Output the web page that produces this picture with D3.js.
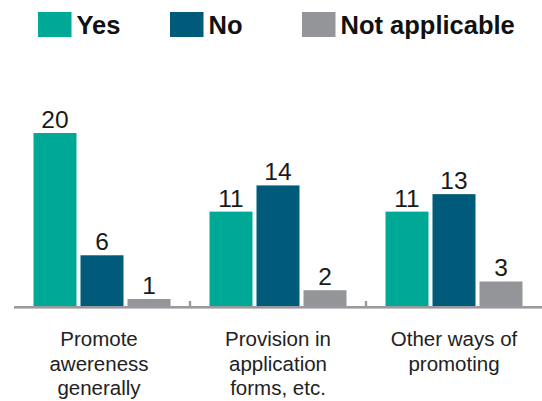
<!DOCTYPE html>
<html>
<head>
<meta charset="utf-8">
<script src="https://cdn.jsdelivr.net/npm/d3@7"></script>
<style>
  html, body { margin: 0; padding: 0; background: #fff; }
  svg { display: block; }
</style>
</head>
<body>
<svg id="chart" width="542" height="401"></svg>
<script>
// ---- data ----
const categories = [
  ["Promote", "awereness", "generally"],
  ["Provision in", "application", "forms, etc."],
  ["Other ways of", "promoting"]
];
const seriesNames = ["Yes", "No", "Not applicable"];
const yesValues = [20, 11, 11];
const noValues = [6, 14, 13];
const naValues = [1, 2, 3];
const colors = ["#00a896", "#005a7a", "#939598"];

const seriesValues = [yesValues, noValues, naValues];
const catKeys = categories.map((c, i) => "c" + i);

const svg = d3.select("#chart");
const font = "'Liberation Sans', Arial, Helvetica, sans-serif";

// ---- scales ----
const x0 = d3.scaleBand().domain(catKeys).range([14, 542]).padding(0);
const x1 = d3.scaleBand().domain(seriesNames)
  .range([19.5, x0.bandwidth() - 19.5]).paddingInner(4 / 47).paddingOuter(0);
const y = d3.scaleLinear().domain([0, 20]).range([307.7, 133]);
const color = d3.scaleOrdinal().domain(seriesNames).range(colors);

// ---- bars ----
const groups = svg.append("g").selectAll("g")
  .data(catKeys)
  .join("g")
  .attr("transform", d => `translate(${x0(d)},0)`);

groups.selectAll("rect")
  .data((d, i) => seriesNames.map((s, j) => ({ s, v: seriesValues[j][i] })))
  .join("rect")
  .attr("x", d => x1(d.s))
  .attr("width", x1.bandwidth())
  .attr("y", d => y(d.v))
  .attr("height", d => y(0) - y(d.v))
  .attr("fill", d => color(d.s));

groups.selectAll("text.val")
  .data((d, i) => seriesNames.map((s, j) => ({ s, v: seriesValues[j][i] })))
  .join("text")
  .attr("class", "val")
  .attr("x", d => x1(d.s) + x1.bandwidth() / 2)
  .attr("y", d => y(d.v) - 5)
  .attr("text-anchor", "middle")
  .attr("font-family", font)
  .attr("font-size", 24.5)
  .attr("fill", "#1a1a1a")
  .text(d => d.v);

// ---- axis ----
const axisG = svg.append("g");
axisG.append("rect")
  .attr("x", x0.range()[0]).attr("y", 306)
  .attr("width", x0.range()[1] - x0.range()[0]).attr("height", 2.6)
  .attr("fill", "#999a9d");
axisG.selectAll("rect.tick")
  .data(catKeys.slice(1))
  .join("rect")
  .attr("class", "tick")
  .attr("x", d => x0(d) - 1.2)
  .attr("y", 301)
  .attr("width", 2.4)
  .attr("height", 6)
  .attr("fill", "#999a9d");

// category labels
catKeys.forEach((k, i) => {
  const t = svg.append("text")
    .attr("x", x0(k) + x0.bandwidth() / 2)
    .attr("y", 346)
    .attr("text-anchor", "middle")
    .attr("font-family", font)
    .attr("font-size", 20.5)
    .attr("fill", "#222");
  categories[i].forEach((line, li) => {
    t.append("tspan")
      .attr("x", x0(k) + x0.bandwidth() / 2 - (i === 0 ? 3 : 0))
      .attr("dy", li === 0 ? 0 : 24.5)
      .text(line);
  });
});

// ---- legend ----
const legendX = [38, 170, 302];
const legend = svg.append("g").selectAll("g")
  .data(seriesNames)
  .join("g")
  .attr("transform", (d, i) => `translate(${legendX[i]},12)`);
legend.append("rect")
  .attr("width", 33.5).attr("height", 25)
  .attr("fill", d => color(d));
legend.append("text")
  .attr("x", 38.5).attr("y", 22)
  .attr("font-family", font)
  .attr("font-weight", "bold")
  .attr("font-size", 25.5)
  .attr("fill", "#111")
  .text(d => d);
</script>
</body>
</html>
